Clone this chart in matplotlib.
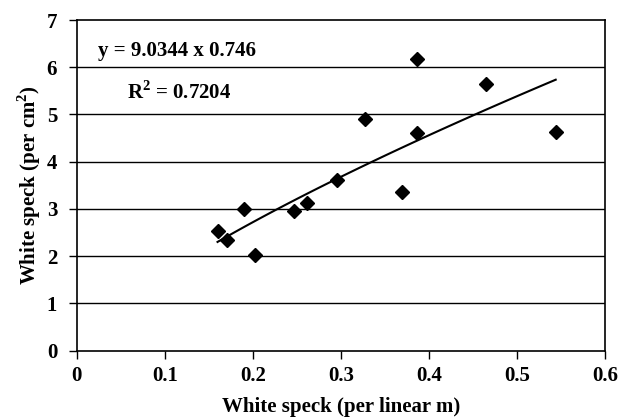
import numpy as np
import matplotlib.pyplot as plt

plt.rcParams['font.family'] = ['Liberation Serif', 'DejaVu Serif']
plt.rcParams['font.weight'] = 'bold'
plt.rcParams['mathtext.fontset'] = 'custom'
plt.rcParams['mathtext.rm'] = 'Liberation Serif:bold'
plt.rcParams['mathtext.bf'] = 'Liberation Serif:bold'

# white speck per linear m vs per cm2
speck_lin = [0.160, 0.171, 0.190, 0.203, 0.247, 0.262, 0.296, 0.328, 0.370, 0.387, 0.387, 0.465, 0.544]
speck_area = [2.53, 2.34, 2.99, 2.03, 2.96, 3.12, 3.61, 4.91, 3.36, 6.17, 4.61, 5.64, 4.62]

# power trendline coefficients
a = 9.0344
b = 0.746

fig = plt.figure(figsize=(6.18, 4.17), dpi=100)
ax = fig.add_axes([0.124, 0.159, 0.855, 0.793])

for yv in range(1, 7):
    ax.axhline(yv, color='k', lw=1.0, zorder=1)

xx = np.linspace(min(speck_lin), max(speck_lin), 100)
ax.plot(xx, a * xx**b, color='k', lw=1.5, zorder=2)
ax.plot(speck_lin, speck_area, 'D', color='k', markersize=7.5, zorder=3)

ax.set_xlim(0, 0.6)
ax.set_ylim(0, 7)
ax.set_xticks([0, 0.1, 0.2, 0.3, 0.4, 0.5, 0.6])
ax.set_xticklabels(['0', '0.1', '0.2', '0.3', '0.4', '0.5', '0.6'])
ax.set_yticks(range(0, 8))
ax.tick_params(direction='out', length=6, width=1, labelsize=15, colors='k')
ax.tick_params(axis='x', pad=5)
ax.tick_params(axis='y', pad=8)
for s in ax.spines.values():
    s.set_linewidth(1.2)

ax.set_xlabel('White speck (per linear m)', fontsize=15, fontweight='bold', labelpad=8)
ax.set_ylabel('White speck (per cm$^2$)', fontsize=15, fontweight='bold', labelpad=3)

ax.text(0.024, 6.245, 'y = 9.0344 x 0.746', fontsize=15, fontweight='bold', va='baseline')
ax.text(0.057, 5.33, 'R$^2$ = 0.7204', fontsize=15, fontweight='bold', va='baseline')

plt.savefig('out.png', dpi=100)
